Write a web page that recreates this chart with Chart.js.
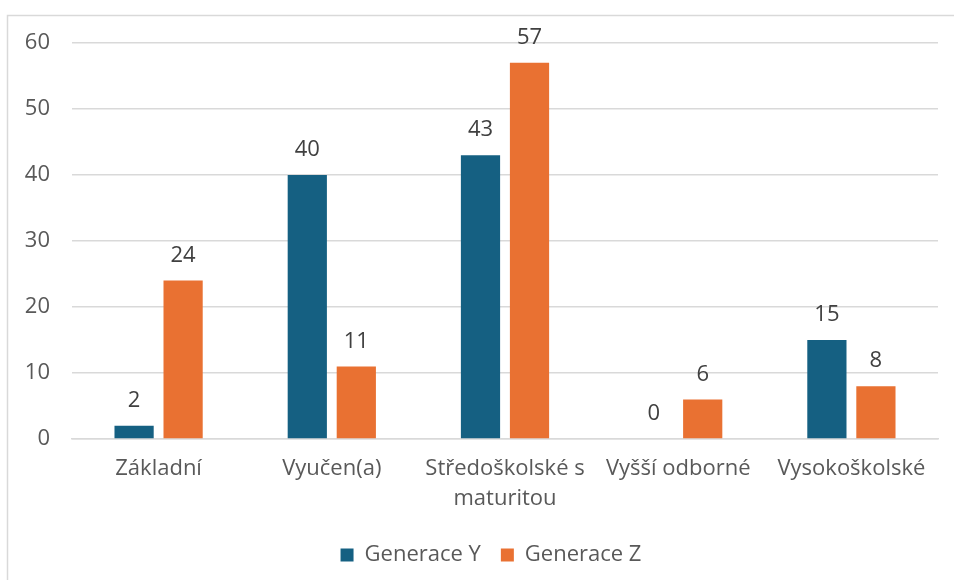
<!DOCTYPE html>
<html>
<head>
<meta charset="utf-8">
<script src="https://cdn.jsdelivr.net/npm/chart.js@4.4.1/dist/chart.umd.min.js"></script>
<style>
  html, body { margin: 0; padding: 0; background: #ffffff; }
  #wrap { position: absolute; left: 0; top: 0; width: 954px; height: 580px; }
</style>
</head>
<body>
<div id="wrap"><canvas id="c" width="954" height="580"></canvas></div>
<script>
const categories = ["Základní", "Vyučen(a)", ["Středoškolské s", "maturitou"], "Vyšší odborné", "Vysokoškolské"];
const seriesNames = ["Generace Y", "Generace Z"];
const generaceY = [2, 40, 43, 0, 15];
const generaceZ = [24, 11, 57, 6, 8];
const yTicks = [0, 10, 20, 30, 40, 50, 60];

const FONT = "'Open Sans', 'Liberation Sans', sans-serif";

const frame = {
  id: 'frame',
  beforeDraw(chart) {
    const ctx = chart.ctx;
    ctx.save();
    ctx.fillStyle = '#ffffff';
    ctx.fillRect(0, 0, chart.width, chart.height);
    ctx.strokeStyle = '#d9d9d9';
    ctx.lineWidth = 1.5;
    ctx.strokeRect(7.5, 15.5, chart.width + 10, chart.height + 10);
    ctx.restore();
  },
  afterLayout(chart) {
    if (chart.legend) {
      chart.legend.left += 12;
      chart.legend.right += 12;
    }
  }
};

const valueLabels = {
  id: 'valueLabels',
  afterDatasetsDraw(chart) {
    const ctx = chart.ctx;
    ctx.save();
    ctx.font = "22px " + FONT;
    ctx.fillStyle = '#404040';
    ctx.textAlign = 'center';
    ctx.textBaseline = 'middle';
    chart.data.datasets.forEach((ds, i) => {
      const meta = chart.getDatasetMeta(i);
      meta.data.forEach((bar, j) => {
        ctx.fillText(String(ds.data[j]), bar.x, bar.y - 25);
      });
    });
    ctx.restore();
  }
};

new Chart(document.getElementById('c'), {
  type: 'bar',
  data: {
    labels: categories,
    datasets: [
      { label: seriesNames[0], data: generaceY, backgroundColor: '#156082', borderColor: '#156082', borderWidth: 0 },
      { label: seriesNames[1], data: generaceZ, backgroundColor: '#E97132', borderColor: '#E97132', borderWidth: 0 }
    ]
  },
  options: {
    responsive: false,
    animation: false,
    devicePixelRatio: 1,
    layout: { padding: { top: 43, right: 16, left: 20, bottom: 4 } },
    datasets: { bar: { categoryPercentage: 0.566, barPercentage: 0.8 } },
    plugins: {
      legend: {
        position: 'bottom',
        labels: {
          font: { family: FONT, size: 22 },
          color: '#595959',
          boxWidth: 13,
          boxHeight: 13,
          padding: 20
        }
      },
      tooltip: { enabled: false }
    },
    scales: {
      x: {
        grid: { display: false, drawTicks: false },
        border: { display: true, color: '#d9d9d9', width: 1.5 },
        ticks: {
          font: { family: FONT, size: 22, lineHeight: 1.4 },
          color: '#595959',
          padding: 14,
          maxRotation: 0,
          autoSkip: false
        },
        afterFit(scale) { scale.height = 85; }
      },
      y: {
        min: 0,
        max: 60,
        afterBuildTicks(scale) { scale.ticks = yTicks.map(v => ({ value: v })); },
        grid: { color: '#d9d9d9', lineWidth: 1.5, drawTicks: false },
        border: { display: false },
        ticks: {
          font: { family: FONT, size: 22 },
          color: '#595959',
          padding: 22
        },
        afterFit(scale) { scale.width = 52; }
      }
    }
  },
  plugins: [frame, valueLabels]
});
</script>
</body>
</html>
